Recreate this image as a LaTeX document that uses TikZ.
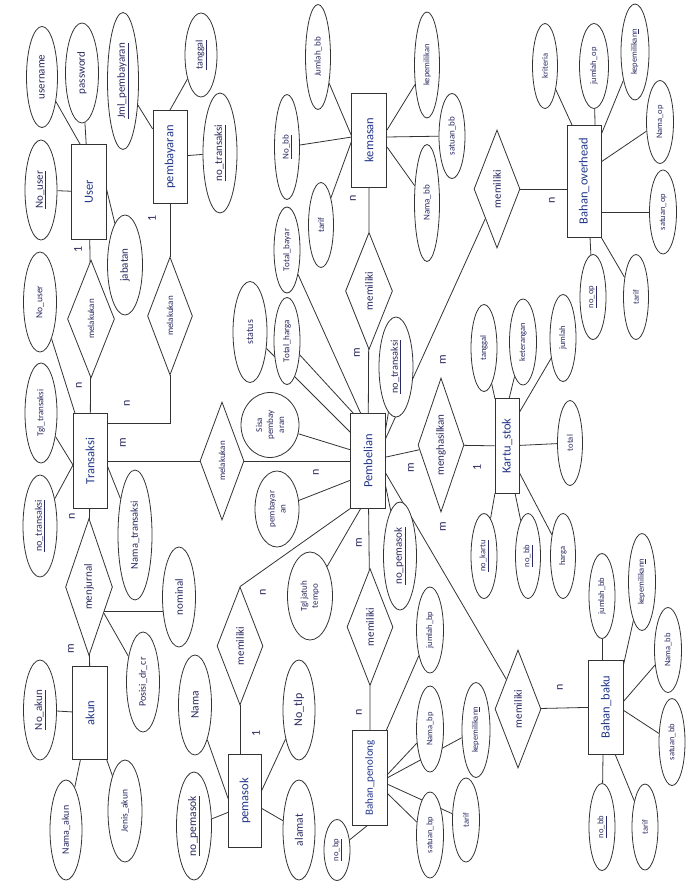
\documentclass[tikz,border=0pt]{standalone}
\usepackage{fontspec}
\setmainfont{Carlito}
\usetikzlibrary{shapes.geometric,calc}
\pgfdeclarelayer{paper}
\pgfdeclarelayer{bg}
\pgfsetlayers{paper,bg,main}
\definecolor{linec}{HTML}{333333}
\definecolor{txtc}{HTML}{2A2A62}
\definecolor{entc}{HTML}{23378A}
\begin{document}
\begin{tikzpicture}[x=1pt,y=-1pt,
  shp/.style={rotate=90, draw=linec, line width=0.8pt, fill=white, inner sep=0pt, text=txtc},
  ent/.style={shp, rectangle, text=entc, font=\fontsize{12.5}{15}\selectfont},
  attr/.style={shp, ellipse, align=center},
  rel/.style={shp, diamond, aspect=2.5},
  card/.style={rotate=90, text=txtc, inner sep=0pt, font=\fontsize{12}{14}\selectfont},
  sz/.style 2 args={minimum height=#1, minimum width=#2},
  fs/.style={font=\fontsize{#1}{11}\selectfont},
  conn/.style={draw=linec, line width=0.8pt}
]
\begin{pgfonlayer}{paper}
\fill[white] (0,0) rectangle (693,882);
\end{pgfonlayer}
\useasboundingbox (0,0) rectangle (693,882);

% entities
\node[ent, sz={35}{95}] (user) at (89,192) {User};
\node[ent, sz={34}{93}] (pbyr) at (170,157) {pembayaran};
\node[ent, sz={34}{95}] (trans) at (90,461) {Transaksi};
\node[ent, sz={35}{93}] (akun) at (90,713) {akun};
\node[ent, sz={33}{93}] (pmsk) at (245,801) {pemasok};
\node[ent, sz={35}{95}] (pemb) at (368,461) {Pembelian};
\node[ent, sz={35}{94}] (kms) at (369,140) {kemasan};
\node[ent, sz={34}{112}] (bov) at (584,181) {Bahan\_overhead};
\node[ent, sz={24}{95}] (kstok) at (507,446) {Kartu\_stok};
\node[ent, sz={35}{94}] (bbaku) at (606,707) {Bahan\_baku};
\node[ent, sz={35}{95}, fs=11] (bpen) at (370,778) {Bahan\_penolong};

% relationships
\node[rel, sz={47}{118}, fs=9] (mel1) at (91,319) {melakukan};
\node[rel, sz={45}{118}, fs=9] (mel2) at (170,316) {melakukan};
\node[rel, sz={44}{118}, fs=9] (mel3) at (222,461) {melakukan};
\node[rel, sz={47}{137}, fs=11] (menj) at (89,587) {menjurnal};
\node[rel, sz={46}{118}, fs=11] (mmpm) at (240,646) {memiliki};
\node[rel, sz={47}{117}, fs=11] (mmks) at (369,291) {memiliki};
\node[rel, sz={46}{117}, fs=11] (mmpn) at (370,627) {memiliki};
\node[rel, sz={46}{118}, fs=11] (mmov) at (497,189) {memiliki};
\node[rel, sz={46}{134}, fs=11] (mghs) at (441,445) {menghasilkan};
\node[rel, sz={46}{118}, fs=11] (mmbb) at (518,709) {memiliki};

% attributes: User
\node[attr, sz={31}{101}, fs=11] (username) at (42,77) {username};
\node[attr, sz={33}{100}, fs=11] (password) at (82,73) {password};
\node[attr, sz={32}{100}, fs=11] (nouser) at (41,190) {\underline{No\_user}};
\node[attr, sz={35}{100}, fs=11] (jabatan) at (125,265) {jabatan};
% pembayaran
\node[attr, sz={31}{137}, fs=11] (jml) at (123,81) {\underline{Jml\_pembayaran}};
\node[attr, sz={32}{84}, fs=10] (tglb) at (201,55) {\underline{tanggal}};
\node[attr, sz={34}{120}, fs=11] (notra) at (220,153) {\underline{no\_transaksi}};
% Transaksi
\node[attr, sz={33}{100}, fs=9.5] (nouserb) at (40,302) {No\_user};
\node[attr, sz={32}{100}, fs=9] (tgltr) at (41,413) {Tgl\_transaksi};
\node[attr, sz={34}{102}, fs=10] (notrb) at (40,526) {\underline{no\_transaksi}};
\node[attr, sz={34}{130}, fs=10.5] (namatr) at (135,535) {Nama\_transaksi};
\node[attr, sz={33}{100}, fs=11] (nominal) at (179,597) {nominal};
\node[attr, sz={33}{100}, fs=10] (posisi) at (143,682) {Posisi\_dr\_cr};
% akun
\node[attr, sz={33}{100}, fs=11] (noakun) at (40,710) {\underline{No\_akun}};
\node[attr, sz={32}{100}, fs=10] (namaakun) at (66,830) {Nama\_akun};
\node[attr, sz={34}{102}, fs=9.5] (jenis) at (125,811) {Jenis\_akun};
% pemasok
\node[attr, sz={33}{100}, fs=11.5] (nama) at (195,705) {Nama};
\node[attr, sz={35}{108}, fs=11.5] (nopmsk) at (194,826) {\underline{no\_pemasok}};
\node[attr, sz={32}{100}, fs=12] (notlp) at (299,710) {No\_tlp};
\node[attr, sz={32}{100}, fs=11.5] (alamat) at (299,830) {alamat};
% Pembelian
\node[attr, sz={34}{101}, fs=10] (status) at (250,332) {status};
\node[attr, sz={26}{87}, fs=9] (tharga) at (287,341) {Total\_harga};
\node[attr, sz={26}{86}, fs=9] (tbayar) at (287,250) {Total\_bayar};
\node[attr, sz={58}{65}, fs=9] (sisa) at (270,425) {Sisa\\pembay\\aran};
\node[attr, sz={44}{76}, fs=9] (pbyrn) at (277,509) {pembayar\\an};
\node[attr, sz={45}{88}, fs=9] (tgljt) at (310,596) {Tgl jatuh\\tempo};
\node[attr, sz={33}{108}, fs=11] (nopmskb) at (400,556) {\underline{no\_pemasok}};
\node[attr, sz={34}{100}, fs=10.3] (notrc) at (396,367) {\underline{no\_transaksi}};
% kemasan
\node[attr, sz={25}{105}, fs=9] (jmlbb) at (318,57) {Jumlah\_bb};
\node[attr, sz={25}{105}, fs=9] (nobb) at (287,147) {\underline{No\_bb}};
\node[attr, sz={25}{85}, fs=9] (tarifa) at (321,225) {tarif};
\node[attr, sz={25}{106}, fs=8.5] (kepa) at (427,65) {kepemilikan};
\node[attr, sz={26}{85}, fs=9] (satbb) at (452,136) {satuan\_bb};
\node[attr, sz={25}{117}, fs=9] (namabb) at (427,203) {Nama\_bb};
% Bahan_overhead
\node[attr, sz={25}{85}, fs=8.5] (krit) at (545,66) {kriteria};
\node[attr, sz={29}{85}, fs=8.5] (jmlop) at (594,66) {jumlah\_op};
\node[attr, sz={28}{96}, fs=8.5] (kepb) at (635,52) {kepemilikan\underline{n}};
\node[attr, sz={27}{83}, fs=8.5] (namaop) at (660,122) {Nama\_op};
\node[attr, sz={27}{84}, fs=8.5] (satop) at (663,212) {satuan\_op};
\node[attr, sz={26}{85}, fs=8.5] (noop) at (593,297) {\underline{no\_op}};
\node[attr, sz={25}{85}, fs=8.5] (tarifb) at (636,297) {tarif};
% Kartu_stok
\node[attr, sz={26}{87}, fs=8.5] (tglc) at (484,348) {tanggal};
\node[attr, sz={27}{86}, fs=8.5] (ket) at (523,342) {keterangan};
\node[attr, sz={26}{87}, fs=8.5] (jumlah) at (563,338) {jumlah};
\node[attr, sz={25}{85}, fs=8.5] (total) at (570,443) {total};
\node[attr, sz={26}{85}, fs=8.5] (nokartu) at (484,556) {\underline{no\_kartu}};
\node[attr, sz={25}{85}, fs=8.5] (nobbb) at (528,556) {\underline{no\_bb}};
\node[attr, sz={25}{85}, fs=8.5] (harga) at (563,556) {harga};
% Bahan_baku
\node[attr, sz={26}{85}, fs=8.5] (jmlbbb) at (602,596) {jumlah\_bb};
\node[attr, sz={27}{97}, fs=8.5] (kepc) at (642,582) {kepemilikan\underline{n}};
\node[attr, sz={27}{85}, fs=8.5] (namabbb) at (668,650) {Nama\_bb};
\node[attr, sz={26}{87}, fs=8.5] (satbbb) at (672,742) {satuan\_bb};
\node[attr, sz={26}{87}, fs=8.5] (nobbc) at (602,827) {\underline{no\_bb}};
\node[attr, sz={26}{86}, fs=8.5] (tarifc) at (645,827) {tarif};
% Bahan_penolong
\node[attr, sz={27}{86}, fs=8.5] (jmlbp) at (430,630) {jumlah\_bp};
\node[attr, sz={27}{86}, fs=8.5] (namabp) at (430,729) {Nama\_bp};
\node[attr, sz={28}{95}, fs=8.5] (kepd) at (476,730) {kepemilikan\underline{n}};
\node[attr, sz={27}{84}, fs=8.5] (tarifd) at (466,820) {tarif};
\node[attr, sz={27}{86}, fs=8.5] (satbp) at (430,835) {satuan\_bp};
\node[attr, sz={26}{61}, fs=8.5] (nobp) at (337,850) {\underline{no\_bp}};

% cardinalities
\node[card] (c1) at (78,249) {1};
\node[card] (c2) at (152,218) {1};
\node[card] (c3) at (79,385) {n};
\node[card] (c4) at (127,403) {n};
\node[card] (c5) at (123,443) {m};
\node[card] (c6) at (72,516) {n};
\node[card] (c7) at (71,649) {m};
\node[card] (c8) at (316,472) {n};
\node[card] (c9) at (263,592) {n};
\node[card] (c10) at (256,733) {1};
\node[card] (c11) at (357,353) {m};
\node[card] (c12) at (353,198) {n};
\node[card] (c13) at (359,543) {m};
\node[card] (c14) at (359,712) {n};
\node[card] (c15) at (443,360) {m};
\node[card] (c16) at (411,468) {m};
\node[card] (c17) at (443,527) {m};
\node[card] (c18) at (477,467) {1};
\node[card] (c19) at (552,200) {n};
\node[card] (c20) at (560,687) {n};

\begin{pgfonlayer}{bg}
% User
\draw[conn] (username) -- ($(user)+(-9,-48)$);
\draw[conn] (password) -- (user);
\draw[conn] (nouser) -- (user);
\draw[conn] ($(user)+(17,-5)$) -- (jabatan);
% pembayaran
\draw[conn] (jml) -- (pbyr);
\draw[conn] (tglb) -- ($(pbyr)+(0,-47)$);
\draw[conn] (pbyr) -- (notra);
% relationships around Transaksi
\draw[conn] (user) -- (mel1) -- (trans);
\draw[conn] (pbyr) -- (mel2);
\draw[conn] (mel2) |- ($(trans)+(0,-38)$);
\draw[conn] (trans) -- (mel3) -- (pemb);
\draw[conn] (trans) -- (menj) -- (akun);
\draw[conn] ($(nominal)+(0,14)$) -- ($(menj)+(0,24)$);
\draw[conn] (menj) -- (posisi);
% Transaksi attributes
\draw[conn] (nouserb) -- (trans);
\draw[conn] (tgltr) -- ($(trans)+(-17,4)$);
\draw[conn] (notrb) -- ($(trans)+(-17,4)$);
\draw[conn] ($(trans)+(17,4)$) -- (namatr);
% akun
\draw[conn] (noakun) -- (akun);
\draw[conn] (akun) -- (namaakun);
\draw[conn] (akun) -- (jenis);
% pemasok
\draw[conn] (nama) -- ($(pmsk)+(-16,0)$);
\draw[conn] (nopmsk) -- ($(pmsk)+(-16,11)$);
\draw[conn] (notlp) -- ($(pmsk)+(16,-9)$);
\draw[conn] (alamat) -- ($(pmsk)+(16,7)$);
\draw[conn] (mmpm) -- (mmpm |- pmsk);
\draw[conn] (mmpm.east) -- ($(pemb)+(-17,47)$);
% Pembelian attributes
\draw[conn] (status) -- ($(pemb)+(-17,-28)$);
\draw[conn] (tharga) -- ($(pemb)+(-14,-47)$);
\draw[conn] (tbayar) -- ($(pemb)+(-7,-47)$);
\draw[conn] (sisa) -- ($(pemb)+(-17,-11)$);
\draw[conn] (pbyrn) -- ($(pemb)+(-17,19)$);
\draw[conn] (tgljt) -- ($(pemb)+(-7,47)$);
\draw[conn] (notrc) -- ($(pemb)+(17,-28)$);
\draw[conn] (nopmskb) -- ($(pemb)+(17,22)$);
% Pembelian relationships
\draw[conn] (pemb) -- (mmks) -- (kms);
\draw[conn] ($(pemb)+(17,-21)$) -- (mmov.north west);
\draw[conn] (mmov) -- (mmov -| bov);
\draw[conn] (pemb) -- (mghs) -- (kstok);
\draw[conn] ($(pemb)+(17,11)$) -- (mmbb.north east);
\draw[conn] (mmbb) -- (bbaku);
\draw[conn] (pemb) -- (mmpn) -- (bpen);
% kemasan
\draw[conn] (jmlbb) -- ($(kms)+(-17,-3)$);
\draw[conn] (nobb) -- ($(kms)+(-17,-3)$);
\draw[conn] (tarifa) -- ($(kms)+(-17,0)$);
\draw[conn] (kepa) -- ($(kms)+(18,-10)$);
\draw[conn] (satbb) -- ($(kms)+(18,-3)$);
\draw[conn] (namabb) -- ($(kms)+(18,7)$);
% Bahan_overhead
\draw[conn] (krit) -- ($(bov)+(-12,-56)$);
\draw[conn] (jmlop) -- ($(bov)+(11,-56)$);
\draw[conn] (kepb) -- ($(bov)+(17,-46)$);
\draw[conn] (namaop) -- ($(bov)+(17,-19)$);
\draw[conn] (satop) -- ($(bov)+(17,31)$);
\draw[conn] (noop) -- ($(bov)+(6,56)$);
\draw[conn] (tarifb) -- ($(bov)+(17,56)$);
% Kartu_stok
\draw[conn] (tglc) -- ($(kstok)+(-12,-47)$);
\draw[conn] (ket) -- ($(kstok)+(2,-47)$);
\draw[conn] (jumlah) -- ($(kstok)+(12,-33)$);
\draw[conn] (total) -- (kstok);
\draw[conn] (nokartu) -- ($(kstok)+(-12,47)$);
\draw[conn] (nobbb) -- ($(kstok)+(8,47)$);
\draw[conn] (harga) -- ($(kstok)+(12,26)$);
% Bahan_baku
\draw[conn] (jmlbbb) -- ($(bbaku)+(-4,-47)$);
\draw[conn] (kepc) -- ($(bbaku)+(17,-40)$);
\draw[conn] (namabbb) -- ($(bbaku)+(17,-5)$);
\draw[conn] (satbbb) -- ($(bbaku)+(17,3)$);
\draw[conn] (nobbc) -- ($(bbaku)+(-3,47)$);
\draw[conn] (tarifc) -- ($(bbaku)+(9,47)$);
% Bahan_penolong
\draw[conn] (jmlbp) -- ($(bpen)+(16,-47)$);
\draw[conn] (namabp) -- ($(bpen)+(17,-3)$);
\draw[conn] (kepd) -- ($(bpen)+(17,0)$);
\draw[conn] (tarifd) -- ($(bpen)+(17,6)$);
\draw[conn] (satbp) -- ($(bpen)+(17,15)$);
\draw[conn] (nobp) -- ($(bpen)+(-2,47)$);
\end{pgfonlayer}
\end{tikzpicture}
\end{document}
